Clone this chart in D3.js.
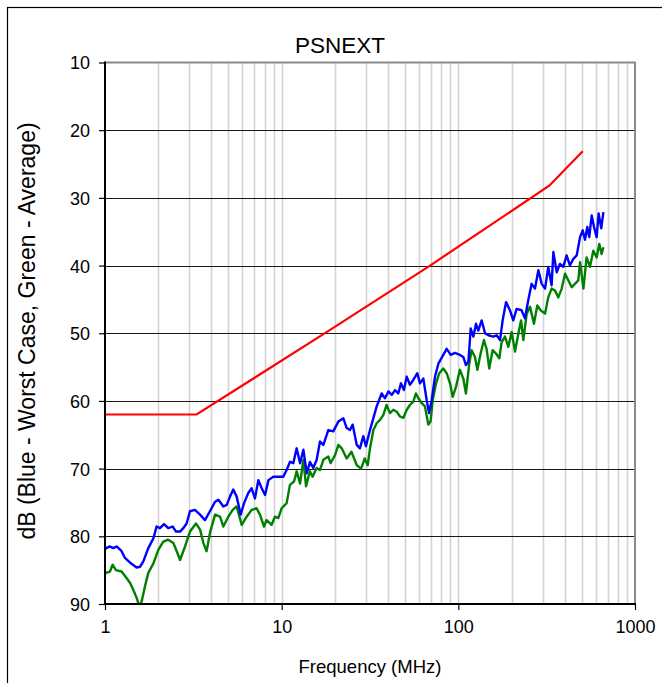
<!DOCTYPE html>
<html><head><meta charset="utf-8">
<script src="https://cdn.jsdelivr.net/npm/d3@7"></script>
<style>
body{margin:0;background:#fff;}
svg{display:block;font-family:"Liberation Sans",Arial,sans-serif;}
</style></head>
<body>
<svg id="chart" width="662" height="683"></svg>
<script>
// ---- data (frequency MHz, dB) ----
const title = "PSNEXT";
const xLabel = "Frequency (MHz)";
const yLabel = "dB (Blue - Worst Case,  Green - Average)";
const xTicks = [1, 10, 100, 1000];
const yTicks = [10, 20, 30, 40, 50, 60, 70, 80, 90];
const xDomain = [1, 1000];
const yDomain = [10, 90];

const limitLine = [[1,62],[3.3,62],[18.8,49.5],[69.2,40],[327,28.2],[506,23.1]];

const worstCase = [[1.0,82.0],[1.014,81.75],[1.067,81.5],[1.114,81.75],[1.164,81.5],[1.242,82.2],[1.297,83.2],[1.387,83.9],[1.510,84.6],[1.578,84.5],[1.648,83.7],[1.758,81.75],[1.879,80.3],[1.959,78.55],[2.046,78.8],[2.158,78.2],[2.280,78.8],[2.415,78.55],[2.523,79.3],[2.661,79.3],[2.773,78.8],[2.897,78.1],[3.027,76.3],[3.228,76.1],[3.451,76.8],[3.681,77.6],[3.926,76.3],[4.198,74.9],[4.385,74.6],[4.677,75.6],[4.887,75.35],[5.105,74.1],[5.321,73.1],[5.559,74.1],[5.861,76.8],[6.124,75.1],[6.471,73.6],[6.761,72.9],[7.063,74.4],[7.379,71.7],[7.709,72.9],[8.054,73.9],[8.414,71.7],[8.974,71.2],[9.572,71.2],[10.21,71.2],[10.67,70.2],[11.14,69.0],[11.64,69.2],[12.16,67.0],[12.71,69.2],[13.27,67.2],[13.87,70.7],[14.45,69.0],[15.10,69.9],[15.78,68.7],[16.48,66.0],[17.22,66.5],[18.37,64.3],[19.59,64.5],[20.94,63.05],[22.34,62.55],[23.33,64.0],[24.38,64.3],[25.23,63.5],[26.61,66.5],[27.73,67.0],[28.97,65.2],[29.99,66.7],[31.62,64.3],[33.04,62.55],[34.51,60.8],[36.81,58.9],[38.46,59.6],[40.18,58.6],[41.98,59.1],[43.85,58.4],[45.71,58.9],[47.32,57.4],[49.20,58.4],[51.05,56.4],[53.21,57.6],[55.59,56.9],[58.61,55.9],[60.67,57.4],[63.39,56.7],[66.22,59.9],[68.23,61.8],[70.63,59.9],[73.79,56.4],[77.09,54.5],[82.22,53.2],[85.90,52.3],[90.57,53.2],[95.72,52.9],[102.1,53.2],[106.7,53.5],[110.4,54.7],[114.0,54.2],[117.5,49.3],[121.6,50.5],[125.9,48.6],[129.7,49.6],[135.5,48.1],[141.6,50.0],[147.9,50.3],[157.8,50.5],[164.8,50.3],[172.2,51.0],[178.2,48.1],[186.2,45.4],[195.9,46.6],[204.6,48.1],[213.8,46.4],[228.0,46.6],[238.2,47.8],[248.9,45.1],[260.0,42.7],[271.6,43.4],[283.8,40.7],[296.5,42.7],[309.7,43.4],[322.8,40.2],[337.3,42.9],[345.1,38.0],[360.6,41.0],[375.8,39.75],[392.6,40.2],[410.2,38.5],[428.5,40.0],[447.7,39.0],[467.7,38.5],[488.7,35.8],[505.8,34.8],[521.2,36.2],[537.0,34.3],[550.8,35.8],[568.9,32.6],[586.1,34.3],[606.7,35.8],[622.3,32.3],[644.2,34.5],[662.2,32.1]];

const average = [[1.0,85.5],[1.014,85.4],[1.067,85.2],[1.104,84.2],[1.153,85.0],[1.242,85.2],[1.327,86.2],[1.387,86.9],[1.445,87.9],[1.510,89.1],[1.563,90.3],[1.614,89.6],[1.683,87.4],[1.758,85.4],[1.879,84.0],[2.004,82.0],[2.138,80.8],[2.280,80.5],[2.438,81.0],[2.547,82.2],[2.661,83.5],[2.838,81.5],[3.027,79.3],[3.273,78.1],[3.451,79.0],[3.606,81.0],[3.758,82.2],[3.926,79.5],[4.198,76.8],[4.477,77.1],[4.677,78.55],[4.989,77.1],[5.284,76.1],[5.559,75.6],[5.943,78.3],[6.339,77.1],[6.761,76.1],[7.211,75.85],[7.534,76.8],[7.943,78.55],[8.222,77.6],[8.770,78.3],[9.162,77.1],[9.572,77.3],[10.0,75.85],[10.67,75.1],[11.14,72.4],[11.75,71.9],[12.16,70.4],[12.71,72.2],[13.27,68.7],[13.74,72.6],[14.45,70.4],[14.96,71.2],[15.78,69.9],[16.48,70.2],[17.22,68.7],[18.37,68.2],[18.92,69.2],[20.04,68.0],[20.94,66.5],[21.88,67.0],[23.33,68.5],[24.83,67.5],[26.61,69.5],[28.18,70.0],[29.51,68.5],[30.69,69.5],[31.62,67.0],[33.04,64.3],[34.51,63.3],[36.06,62.8],[37.58,62.1],[39.26,60.6],[41.02,61.8],[42.85,61.3],[44.77,61.6],[46.77,62.3],[48.87,62.5],[51.05,61.3],[53.21,60.6],[55.59,60.1],[57.54,58.9],[59.43,59.6],[61.94,60.3],[64.71,60.8],[67.61,63.5],[69.66,63.0],[71.61,59.9],[74.82,57.4],[77.98,55.9],[82.22,55.2],[85.90,55.9],[89.74,57.4],[92.90,59.4],[97.05,57.9],[102.1,55.4],[106.7,56.7],[110.4,58.9],[115.3,54.5],[118.9,52.5],[124.2,53.5],[128.2,55.4],[133.7,53.0],[139.6,51.0],[144.5,52.3],[149.6,55.2],[156.3,52.5],[163.3,53.0],[170.6,53.7],[175.8,51.3],[183.7,50.5],[191.9,52.0],[200.4,49.8],[209.4,52.7],[218.8,50.0],[226.5,48.1],[233.3,51.0],[243.8,47.1],[254.7,46.1],[267.9,48.6],[279.9,45.9],[292.4,46.6],[309.7,47.1],[322.8,44.7],[337.3,43.4],[352.4,43.7],[368.1,44.7],[384.6,43.4],[401.8,41.2],[419.8,42.2],[438.5,43.2],[457.1,42.7],[477.5,42.2],[488.7,39.5],[510.5,43.4],[532.1,38.8],[555.9,40.2],[580.8,37.8],[606.7,38.8],[628.1,36.8],[647.1,38.3],[662.2,37.3]];

// ---- layout ----
const svg = d3.select("#chart");
const L = 105, R = 635, T = 62.5, B = 604;
const x = d3.scaleLog().domain(xDomain).range([L, R]);
const y = d3.scaleLinear().domain(yDomain).range([T, B]);

// outer frame
svg.append("rect").attr("x", 7.5).attr("y", 7.5).attr("width", 700).attr("height", 700)
  .attr("fill", "none").attr("stroke", "#000").attr("stroke-width", 1.2);

// vertical grid (log minor + major)
const vGrid = [];
[1, 10, 100].forEach(dec => { for (let k = 1; k <= 9; k++) { const v = dec * k; if (v > 1) vGrid.push(v); } });
svg.append("g").selectAll("line").data(vGrid).join("line")
  .attr("x1", d => Math.round(x(d)) + 0.5).attr("x2", d => Math.round(x(d)) + 0.5)
  .attr("y1", T).attr("y2", B)
  .attr("stroke", "#d3d3d3").attr("stroke-width", 1.6);

// horizontal grid
svg.append("g").selectAll("line").data(yTicks.slice(1, -1)).join("line")
  .attr("x1", L).attr("x2", R)
  .attr("y1", d => Math.round(y(d)) + 0.5).attr("y2", d => Math.round(y(d)) + 0.5)
  .attr("stroke", "#1a1a1a").attr("stroke-width", 1.1);

// top and right plot borders (grey)
svg.append("line").attr("x1", L).attr("x2", R + 1).attr("y1", T).attr("y2", T)
  .attr("stroke", "#8a8a8a").attr("stroke-width", 2);
svg.append("line").attr("x1", R).attr("x2", R).attr("y1", T).attr("y2", B)
  .attr("stroke", "#8a8a8a").attr("stroke-width", 2);

// clip
svg.append("defs").append("clipPath").attr("id", "clip")
  .append("rect").attr("x", L).attr("y", T - 1).attr("width", R - L).attr("height", B - T + 1);

const line = d3.line().x(d => x(d[0])).y(d => y(d[1]));
const plot = svg.append("g").attr("clip-path", "url(#clip)");
plot.append("path").datum(limitLine).attr("d", line)
  .attr("fill", "none").attr("stroke", "#ff0000").attr("stroke-width", 2.2);
plot.append("path").datum(average).attr("d", line)
  .attr("fill", "none").attr("stroke", "#008000").attr("stroke-width", 2.4).attr("stroke-linejoin", "round");
plot.append("path").datum(worstCase).attr("d", line)
  .attr("fill", "none").attr("stroke", "#0000ff").attr("stroke-width", 2.4).attr("stroke-linejoin", "round");

// axes
const yAxis = svg.append("g").attr("transform", `translate(${L},0)`)
  .call(d3.axisLeft(y).tickValues(yTicks).tickSize(6).tickPadding(9).tickFormat(d3.format("d")));
const xAxis = svg.append("g").attr("transform", `translate(0,${B})`)
  .call(d3.axisBottom(x).tickValues(xTicks).tickSize(6).tickPadding(10).tickFormat(d3.format("d")));
[yAxis, xAxis].forEach(a => {
  a.select(".domain").remove();
  a.selectAll("line").attr("stroke", "#000").attr("stroke-width", 1.2);
  a.selectAll("text").attr("fill", "#000").style("font-size", "18px")
    .style("font-family", "'Liberation Sans',Arial,sans-serif");
});
yAxis.selectAll("text").attr("dy", "0.36em");
// axis lines (black)
svg.append("line").attr("x1", L).attr("x2", L).attr("y1", T - 1).attr("y2", B + 1)
  .attr("stroke", "#000").attr("stroke-width", 2);
svg.append("line").attr("x1", L - 1).attr("x2", R + 1).attr("y1", B).attr("y2", B)
  .attr("stroke", "#000").attr("stroke-width", 2);

// titles
svg.append("text").attr("x", 340).attr("y", 53).attr("text-anchor", "middle")
  .style("font-size", "22.5px").text(title);
svg.append("text").attr("x", 370).attr("y", 673).attr("text-anchor", "middle")
  .style("font-size", "18.5px").text(xLabel);
svg.append("text").attr("transform", "translate(35,331) rotate(-90)").attr("text-anchor", "middle")
  .style("font-size", "23px").text(yLabel);
</script>
</body></html>
